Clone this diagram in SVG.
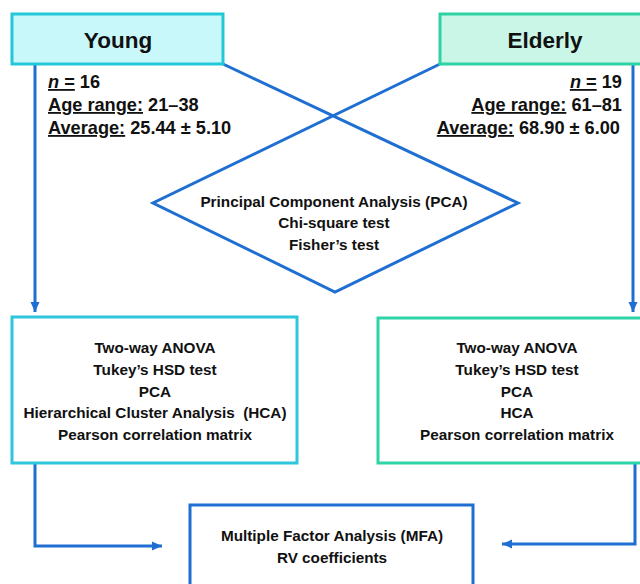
<svg xmlns="http://www.w3.org/2000/svg" width="640" height="584" viewBox="0 0 640 584">
<style>
text{font-family:"Liberation Sans",Arial,sans-serif;font-weight:bold;fill:#111;}
.title{font-size:22.5px;text-anchor:middle;}
.info{font-size:18.2px;}
.c{font-size:15.3px;text-anchor:middle;}
.u{text-decoration:underline;}
.conn{fill:none;stroke:#1f6fd2;stroke-width:3;}
</style>
<defs>
<marker id="ah" viewBox="0 0 10 10" refX="10" refY="5" markerWidth="10" markerHeight="10" markerUnits="userSpaceOnUse" orient="auto">
<path d="M0,0.5 L10,5 L0,9.5 z" fill="#1f6fd2"/>
</marker>
</defs>
<rect width="640" height="584" fill="#fff"/>
<g id="connectors">
<path class="conn" d="M223,64 L518,203 L335,292 L153,203 L440,64"/>
<path class="conn" d="M35,65 V312" marker-end="url(#ah)"/>
<path class="conn" d="M633,65 V312" marker-end="url(#ah)"/>
<path class="conn" d="M35,463 V546 H162" marker-end="url(#ah)"/>
<path class="conn" d="M635,463 V544 H502" marker-end="url(#ah)"/>
</g>
<g id="young">
<rect x="12" y="14" width="211" height="50" fill="#c9f8fa" stroke="#22c7d8" stroke-width="3"/>
<text class="title" x="118" y="48">Young</text>
<text class="info" x="48" y="88"><tspan class="u" font-style="italic">n</tspan><tspan class="u"> =</tspan> 16</text>
<text class="info" x="48" y="111"><tspan class="u">Age range:</tspan> 21–38</text>
<text class="info" x="48" y="134"><tspan class="u">Average:</tspan> 25.44 ± 5.10</text>
</g>
<g id="elderly">
<rect x="440" y="14" width="215" height="50" fill="#c9f6e7" stroke="#2dd3a2" stroke-width="3"/>
<text class="title" x="545" y="48">Elderly</text>
<text class="info" x="622" y="88" text-anchor="end"><tspan class="u" font-style="italic">n</tspan><tspan class="u"> =</tspan> 19</text>
<text class="info" x="622" y="111" text-anchor="end"><tspan class="u">Age range:</tspan> 61–81</text>
<text class="info" x="620" y="134" text-anchor="end"><tspan class="u">Average:</tspan> 68.90 ± 6.00</text>
</g>
<g id="diamond">
<text class="c" x="334" y="207">Principal Component Analysis (PCA)</text>
<text class="c" x="334" y="228">Chi-square test</text>
<text class="c" x="334" y="250">Fisher’s test</text>
</g>
<g id="young-analysis">
<rect x="12" y="317" width="285" height="146" fill="none" stroke="#2ec6da" stroke-width="3"/>
<text class="c" x="155" y="353">Two-way ANOVA</text>
<text class="c" x="155" y="375">Tukey’s HSD test</text>
<text class="c" x="155" y="397">PCA</text>
<text class="c" x="155" y="418" xml:space="preserve">Hierarchical Cluster Analysis  (HCA)</text>
<text class="c" x="155" y="440">Pearson correlation matrix</text>
</g>
<g id="elderly-analysis">
<rect x="378" y="318" width="280" height="145" fill="none" stroke="#2cd4a6" stroke-width="3"/>
<text class="c" x="517" y="353">Two-way ANOVA</text>
<text class="c" x="517" y="375">Tukey’s HSD test</text>
<text class="c" x="517" y="397">PCA</text>
<text class="c" x="517" y="418">HCA</text>
<text class="c" x="517" y="440">Pearson correlation matrix</text>
</g>
<g id="mfa">
<rect x="190" y="505" width="283" height="100" fill="none" stroke="#1f6fd2" stroke-width="3"/>
<text class="c" x="332" y="541">Multiple Factor Analysis (MFA)</text>
<text class="c" x="332" y="563">RV coefficients</text>
</g>
</svg>
